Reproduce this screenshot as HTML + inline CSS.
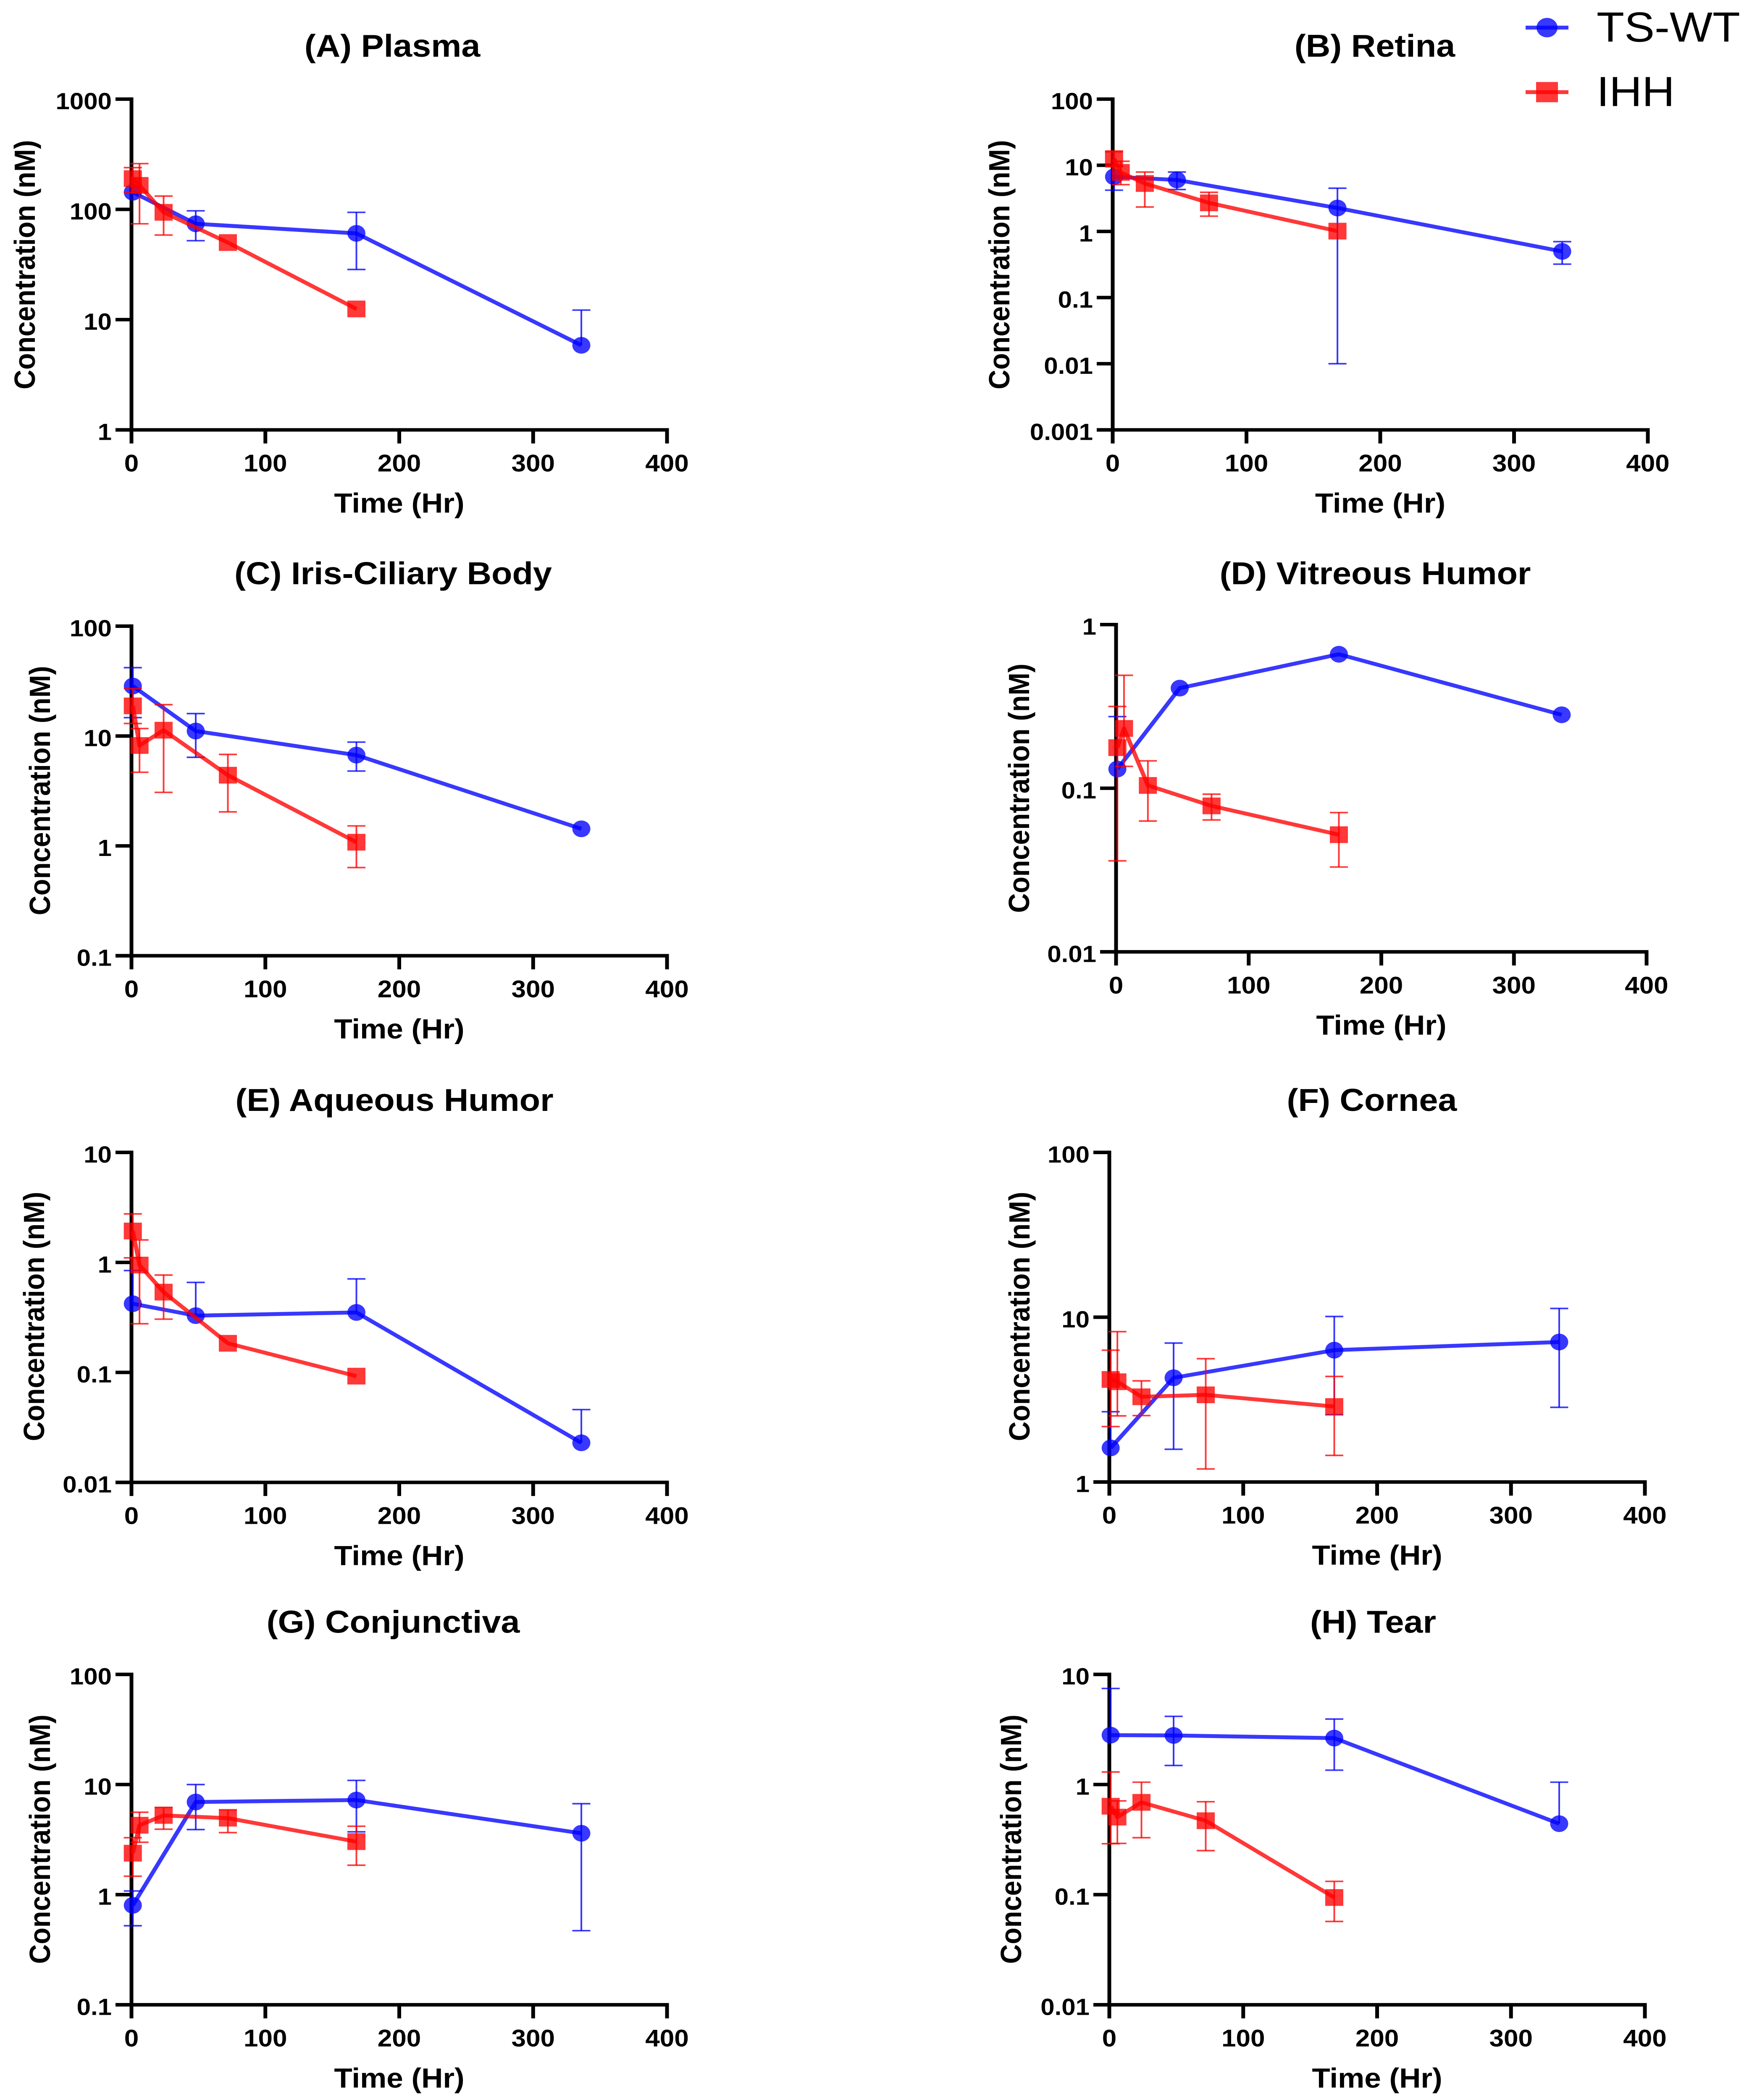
<!DOCTYPE html>
<html lang="en">
<head>
<meta charset="utf-8">
<title>Concentration vs time by tissue</title>
<style>
html,body{margin:0;padding:0;background:#fff;width:100%;height:100%;overflow:hidden;}
svg{display:block;width:100vw;height:100vh;}
text{font-family:"Liberation Sans",Arial,sans-serif;fill:#000;}
</style>
</head>
<body>
<svg id="chart" xmlns="http://www.w3.org/2000/svg" viewBox="0 0 4171 5403" preserveAspectRatio="none">
<rect x="0" y="0" width="4171" height="5403" fill="#fff"/>
<g id="plots"></g>
<g>
  <line x1="3632" x2="3734" y1="71" y2="71" stroke="#0000ff" stroke-opacity="0.78" stroke-width="10"/>
  <circle cx="3683" cy="71" r="25" fill="#0000ff" fill-opacity="0.78"/>
  <text x="3801" y="107" font-size="108">TS-WT</text>
  <line x1="3632" x2="3734" y1="237" y2="237" stroke="#ff0000" stroke-opacity="0.78" stroke-width="10"/>
  <rect x="3657" y="211" width="52" height="52" fill="#ff0000" fill-opacity="0.78"/>
  <text x="3801" y="273" font-size="108">IHH</text>
</g>
</svg>
<script>
// Shared categories
const timesWT = [1, 48, 168, 336];
const timesIHH = [1, 6, 24, 72, 168];
const xTickLabels = ['0', '100', '200', '300', '400'];

// (A) Plasma
const plasmaTicks = ['1', '10', '100', '1000'];
const plasmaWT = [143, 74, 60.6, 5.85];
const plasmaWTHi = [null, 97, 94, 12.2];
const plasmaWTLo = [null, 52, 28.5, null];
const plasmaIHH = [190, 165, 94, 50, 12.5];
const plasmaIHHHi = [239, 260, 132, null, null];
const plasmaIHHLo = [142, 74, 58.5, null, null];

// (B) Retina
const retinaTicks = ['0.001', '0.01', '0.1', '1', '10', '100'];
const retinaWT = [6.7, 6.0, 2.26, 0.498];
const retinaWTHi = [9.7, 7.9, 4.5, 0.70];
const retinaWTLo = [4.2, 4.3, 0.01, 0.32];
const retinaIHH = [12.6, 7.8, 5.3, 2.7, 1.01];
const retinaIHHHi = [16, 11.5, 7.9, 3.9, null];
const retinaIHHLo = [9.5, 5.1, 2.34, 1.7, null];

// (C) Iris-Ciliary Body
const irisTicks = ['0.1', '1', '10', '100'];
const irisWT = [28.5, 11.1, 6.7, 1.43];
const irisWTHi = [41.9, 16, 8.8, null];
const irisWTLo = [14.7, 6.4, 4.8, null];
const irisIHH = [18.8, 8.2, 11.3, 4.4, 1.08];
const irisIHHHi = [27, 11.7, 19.3, 6.8, 1.52];
const irisIHHLo = [13, 4.68, 3.07, 2.04, 0.635];

// (D) Vitreous Humor
const vitreousTicks = ['0.01', '0.1', '1'];
const vitreousWT = [0.131, 0.409, 0.659, 0.281];
const vitreousWTHi = [0.274, null, null, null];
const vitreousWTLo = [null, null, null, null];
const vitreousIHH = [0.177, 0.232, 0.104, 0.078, 0.052];
const vitreousIHHHi = [0.316, 0.49, 0.147, 0.092, 0.071];
const vitreousIHHLo = [0.036, 0.136, 0.063, 0.064, 0.033];

// (E) Aqueous Humor
const aqueousTicks = ['0.01', '0.1', '1', '10'];
const aqueousWT = [0.421, 0.328, 0.351, 0.0229];
const aqueousWTHi = [0.843, 0.658, 0.708, 0.0459];
const aqueousWTLo = [null, null, null, null];
const aqueousIHH = [1.93, 0.946, 0.537, 0.184, 0.0925];
const aqueousIHHHi = [2.76, 1.6, 0.767, null, null];
const aqueousIHHLo = [1.1, 0.277, 0.305, null, null];

// (F) Cornea
const corneaTicks = ['1', '10', '100'];
const corneaWT = [1.61, 4.29, 6.31, 7.07];
const corneaWTHi = [2.67, 6.97, 10.1, 11.3];
const corneaWTLo = [null, 1.58, 2.56, 2.84];
const corneaIHH = [4.19, 4.06, 3.29, 3.38, 2.87];
const corneaIHHHi = [6.31, 8.17, 4.11, 5.6, 4.37];
const corneaIHHLo = [2.17, 2.52, 2.53, 1.2, 1.45];

// (G) Conjunctiva
const conjunctivaTicks = ['0.1', '1', '10', '100'];
const conjunctivaWT = [0.80, 6.94, 7.23, 3.61];
const conjunctivaWTHi = [1.08, 10, 10.9, 6.7];
const conjunctivaWTLo = [0.522, 3.9, 3.72, 0.471];
const conjunctivaIHH = [2.38, 4.27, 5.24, 4.95, 3.03];
const conjunctivaIHHHi = [3.29, 5.6, 6.2, 5.9, 4.18];
const conjunctivaIHHLo = [1.47, 2.99, 3.93, 3.66, 1.85];

// (H) Tear
const tearTicks = ['0.01', '0.1', '1', '10'];
const tearWT = [2.81, 2.79, 2.64, 0.441];
const tearWTHi = [7.45, 4.16, 3.93, 1.05];
const tearWTLo = [null, 1.49, 1.35, null];
const tearIHH = [0.635, 0.506, 0.689, 0.469, 0.0942];
const tearIHHHi = [1.3, 0.71, 1.05, 0.698, 0.132];
const tearIHHLo = [0.29, 0.292, 0.329, 0.251, 0.0571];

const panels = [
  {id:'plasma', title:'(A) Plasma', ticks:plasmaTicks, wt:plasmaWT, wtHi:plasmaWTHi, wtLo:plasmaWTLo, ihh:plasmaIHH, ihhHi:plasmaIHHHi, ihhLo:plasmaIHHLo,
   left:313, right:1588, top:255, bottom:1106, titleX:934, titleY:146, ylabelX:60, ylabelY:681},
  {id:'retina', title:'(B) Retina', ticks:retinaTicks, wt:retinaWT, wtHi:retinaWTHi, wtLo:retinaWTLo, ihh:retinaIHH, ihhHi:retinaIHHHi, ihhLo:retinaIHHLo,
   left:2649, right:3923, top:255, bottom:1106, titleX:3273, titleY:146, ylabelX:2380, ylabelY:681},
  {id:'iris', title:'(C) Iris-Ciliary Body', ticks:irisTicks, wt:irisWT, wtHi:irisWTHi, wtLo:irisWTLo, ihh:irisIHH, ihhHi:irisIHHHi, ihhLo:irisIHHLo,
   left:313, right:1588, top:1611, bottom:2459, titleX:936, titleY:1503, ylabelX:96, ylabelY:2034},
  {id:'vitreous', title:'(D) Vitreous Humor', ticks:vitreousTicks, wt:vitreousWT, wtHi:vitreousWTHi, wtLo:vitreousWTLo, ihh:vitreousIHH, ihhHi:vitreousIHHHi, ihhLo:vitreousIHHLo,
   left:2657, right:3920, top:1607, bottom:2449, titleX:3274, titleY:1503, ylabelX:2427, ylabelY:2028},
  {id:'aqueous', title:'(E) Aqueous Humor', ticks:aqueousTicks, wt:aqueousWT, wtHi:aqueousWTHi, wtLo:aqueousWTLo, ihh:aqueousIHH, ihhHi:aqueousIHHHi, ihhLo:aqueousIHHLo,
   left:313, right:1588, top:2965, bottom:3814, titleX:939, titleY:2858, ylabelX:82, ylabelY:3387},
  {id:'cornea', title:'(F) Cornea', ticks:corneaTicks, wt:corneaWT, wtHi:corneaWTHi, wtLo:corneaWTLo, ihh:corneaIHH, ihhHi:corneaIHHHi, ihhLo:corneaIHHLo,
   left:2641, right:3916, top:2965, bottom:3813, titleX:3266, titleY:2858, ylabelX:2428, ylabelY:3387},
  {id:'conjunctiva', title:'(G) Conjunctiva', ticks:conjunctivaTicks, wt:conjunctivaWT, wtHi:conjunctivaWTHi, wtLo:conjunctivaWTLo, ihh:conjunctivaIHH, ihhHi:conjunctivaIHHHi, ihhLo:conjunctivaIHHLo,
   left:313, right:1588, top:4308, bottom:5158, titleX:936, titleY:4201, ylabelX:96, ylabelY:4732},
  {id:'tear', title:'(H) Tear', ticks:tearTicks, wt:tearWT, wtHi:tearWTHi, wtLo:tearWTLo, ihh:tearIHH, ihhHi:tearIHHHi, ihhLo:tearIHHLo,
   left:2641, right:3916, top:4308, bottom:5158, titleX:3269, titleY:4201, ylabelX:2408, ylabelY:4732}
];

const NS = 'http://www.w3.org/2000/svg';
const root = document.getElementById('plots');

function mk(parent, tag, attrs, txt) {
  const el = document.createElementNS(NS, tag);
  for (const k in attrs) el.setAttribute(k, attrs[k]);
  if (txt !== undefined) el.textContent = txt;
  parent.appendChild(el);
  return el;
}

function drawSeries(g, p, sx, sy, key, color, times, vals, his, los) {
  const sg = mk(g, 'g', {});
  
  
  // error bars
  times.forEach(function (t, i) {
    const x = sx(t), y = sy(vals[i]);
    [his[i], los[i]].forEach(function (b, j) {
      if (b === null) return;
      const yb = sy(b);
      const stem = mk(sg, 'line', {x1:x, x2:x, y1:y, y2:yb, stroke:color, 'stroke-opacity':0.78, 'stroke-width':4});
      
      
      const cap = mk(sg, 'line', {x1:x - 21.5, x2:x + 21.5, y1:yb, y2:yb, stroke:color, 'stroke-opacity':0.78, 'stroke-width':4});
      
      
    });
  });
  // connecting line
  const pts = times.map(function (t, i) { return sx(t) + ',' + sy(vals[i]); }).join(' ');
  const line = mk(sg, 'polyline', {points:pts, fill:'none', stroke:color, 'stroke-opacity':0.78, 'stroke-width':10, 'stroke-linejoin':'round'});
  
  
  // markers
  times.forEach(function (t, i) {
    const x = sx(t), y = sy(vals[i]);
    let m;
    if (key === 'ts-wt') {
      m = mk(sg, 'circle', {cx:x, cy:y, r:21.5, fill:color, 'fill-opacity':0.78});
    } else {
      m = mk(sg, 'rect', {x:x - 21.5, y:y - 21.5, width:43, height:43, fill:color, 'fill-opacity':0.78});
    }
    
    
  });
}

panels.forEach(function (p) {
  const g = mk(root, 'g', {});
  
  

  const tickVals = p.ticks.map(Number);
  const logMin = Math.log10(tickVals[0]);
  const logMax = Math.log10(tickVals[tickVals.length - 1]);
  const sx = function (t) { return p.left + (t / 400) * (p.right - p.left); };
  const sy = function (v) { return p.bottom - (Math.log10(v) - logMin) / (logMax - logMin) * (p.bottom - p.top); };

  const title = mk(g, 'text', {x:p.titleX, y:p.titleY, 'font-size':81, 'font-weight':'bold', 'text-anchor':'middle'}, p.title);
  
  

  const yl = mk(g, 'text', {x:0, y:0, 'font-size':70, 'font-weight':'bold', 'text-anchor':'middle',
    transform:'translate(' + (p.ylabelX + 23) + ',' + p.ylabelY + ') rotate(-90)'}, 'Concentration (nM)');
  
  

  const xl = mk(g, 'text', {x:(p.left + p.right) / 2, y:p.bottom + 213, 'font-size':71, 'font-weight':'bold', 'text-anchor':'middle'}, 'Time (Hr)');
  
  

  // axes
  const ya = mk(g, 'line', {x1:p.left, x2:p.left, y1:p.top - 4.5, y2:p.bottom + 4.5, stroke:'#000', 'stroke-width':9});
  
  
  const xa = mk(g, 'line', {x1:p.left - 38, x2:p.right + 4.5, y1:p.bottom, y2:p.bottom, stroke:'#000', 'stroke-width':9});
  
  

  // y ticks
  p.ticks.forEach(function (label, i) {
    const y = sy(tickVals[i]);
    const tk = mk(g, 'line', {x1:p.left - 38, x2:p.left, y1:y, y2:y, stroke:'#000', 'stroke-width':9});
    
    
    const tl = mk(g, 'text', {x:p.left - 47, y:y + 26, 'font-size':60, 'font-weight':'bold', 'text-anchor':'end'}, label);
    
    
  });

  // x ticks
  xTickLabels.forEach(function (label) {
    const x = sx(Number(label));
    const tk = mk(g, 'line', {x1:x, x2:x, y1:p.bottom, y2:p.bottom + 35, stroke:'#000', 'stroke-width':9});
    
    
    const tl = mk(g, 'text', {x:x, y:p.bottom + 107, 'font-size':62, 'font-weight':'bold', 'text-anchor':'middle'}, label);
    
    
  });

  drawSeries(g, p, sx, sy, 'ts-wt', '#0000ff', timesWT, p.wt, p.wtHi, p.wtLo);
  drawSeries(g, p, sx, sy, 'ihh', '#ff0000', timesIHH, p.ihh, p.ihhHi, p.ihhLo);
});
</script>
</body>
</html>
